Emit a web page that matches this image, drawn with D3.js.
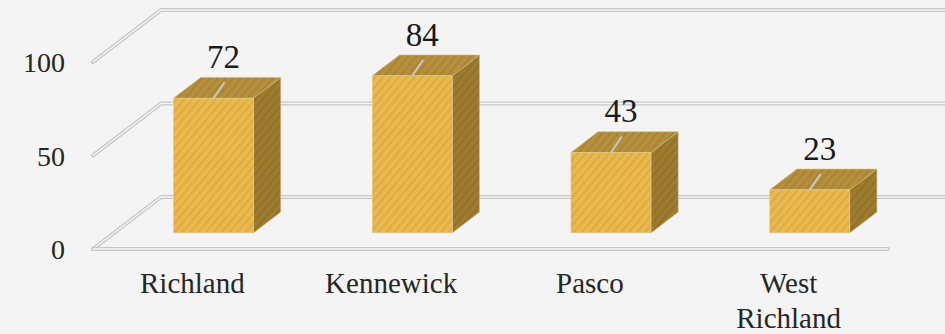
<!DOCTYPE html>
<html>
<head>
<meta charset="utf-8">
<script src="https://cdn.jsdelivr.net/npm/d3@7"></script>
<style>
  html, body { margin: 0; padding: 0; background: #f4f4f4; }
  svg { display: block; }
  svg text { font-family: "Liberation Serif", "DejaVu Serif", serif; }
</style>
</head>
<body>
<svg id="chart" width="945" height="334"></svg>
<script>
const categories = ["Richland", "Kennewick", "Pasco", "West Richland"];
const values = [72, 84, 43, 23];
const yTicks = [0, 50, 100];

const W = 945, H = 334;
const svg = d3.select("#chart");

// perspective offsets for the full floor depth
const DX = 68, DY = -52;
const barStart = 0.31, barDepth = 0.40;
const barW = 80;

const x = d3.scaleBand().domain(categories).range([93, 888]).padding(0);
const y = d3.scaleLinear().domain([0, 100]).range([249, 62]);

const defs = svg.append("defs");
function stripes(id, base, stripe) {
  const p = defs.append("pattern").attr("id", id)
    .attr("patternUnits", "userSpaceOnUse").attr("width", 6).attr("height", 6)
    .attr("patternTransform", "rotate(40)");
  p.append("rect").attr("width", 6).attr("height", 6).attr("fill", base);
  p.append("rect").attr("width", 2.2).attr("height", 6).attr("fill", stripe);
}
stripes("front", "#e9ba4e", "#ddac42");
stripes("top", "#b58f3b", "#a98433");
stripes("side", "#9d7c2f", "#927228");

// background
svg.append("rect").attr("width", W).attr("height", H).attr("fill", "#f4f4f4");

// gridlines (back wall + left wall diagonal)
const grid = svg.append("g");
function gridLine(pts) {
  const line = d3.line();
  grid.append("path").attr("d", line(pts)).attr("fill", "none")
    .attr("stroke", "#c6c6c6").attr("stroke-width", 4).attr("stroke-linecap", "round").attr("stroke-linejoin", "round");
  grid.append("path").attr("d", line(pts)).attr("fill", "none")
    .attr("stroke", "#f7f7f7").attr("stroke-width", 1.4).attr("stroke-linecap", "round").attr("stroke-linejoin", "round");
}
const x0 = x.range()[0], x1 = x.range()[1];
yTicks.forEach(t => {
  gridLine([[x0, y(t)], [x0 + DX, y(t) + DY], [W + 20, y(t) + DY]]);
});
// front floor edge
gridLine([[x0, y(0)], [x1, y(0)]]);

// y axis labels
svg.append("g").selectAll("text").data(yTicks).join("text")
  .attr("x", 65).attr("y", d => y(d)).attr("dy", "0.36em")
  .attr("text-anchor", "end")
  .attr("font-size", 28).attr("fill", "#262626")
  .text(d => d);

// bars
const bars = svg.append("g").selectAll("g").data(categories.map((c, i) => ({c, v: values[i]}))).join("g");
bars.each(function(d) {
  const g = d3.select(this);
  const fx = x(d.c) + x.bandwidth() / 2 - barW / 2 + DX * barStart;
  const baseY = y(0) + DY * barStart;
  const topY = y(d.v) + DY * barStart;
  const ddx = DX * barDepth, ddy = DY * barDepth;
  const line = d3.line();
  // side
  g.append("path").attr("d", line([[fx + barW, topY], [fx + barW + ddx, topY + ddy], [fx + barW + ddx, baseY + ddy], [fx + barW, baseY]]) + "Z")
    .attr("fill", "url(#side)").attr("stroke", "#c9b27a").attr("stroke-width", 0.6);
  // top
  g.append("path").attr("d", line([[fx, topY], [fx + ddx, topY + ddy], [fx + barW + ddx, topY + ddy], [fx + barW, topY]]) + "Z")
    .attr("fill", "url(#top)").attr("stroke", "#d2bd8a").attr("stroke-width", 0.6);
  // front
  g.append("rect").attr("x", fx).attr("y", topY).attr("width", barW).attr("height", baseY - topY)
    .attr("fill", "url(#front)").attr("stroke", "#e2cf9c").attr("stroke-width", 0.6);
  // label + leader line
  const lx = fx + barW / 2 + 10, ly = topY - 30;
  g.append("line").attr("x1", fx + barW / 2).attr("y1", topY)
    .attr("x2", lx + 1).attr("y2", ly + 14)
    .attr("stroke", "#c8c8c8").attr("stroke-width", 2);
  g.append("text").attr("x", lx).attr("y", ly)
    .attr("text-anchor", "middle")
    .attr("font-size", 33).attr("fill", "#1a1a1a")
    .text(d.v);
});

// category labels
const cat = svg.append("g").selectAll("text").data(categories).join("text")
  .attr("x", d => x(d) + x.bandwidth() / 2).attr("y", 293)
  .attr("text-anchor", "middle")
  .attr("font-size", 29).attr("fill", "#262626");
cat.each(function(d) {
  const t = d3.select(this);
  const words = d.split(" ");
  const cx = x(d) + x.bandwidth() / 2;
  t.text(d);
  if (this.getComputedTextLength() > 150 && words.length > 1) {
    t.text(null);
    words.forEach((w, i) => {
      t.append("tspan").attr("x", cx).attr("dy", i === 0 ? 0 : 35).text(w);
    });
  }
});
</script>
</body>
</html>
